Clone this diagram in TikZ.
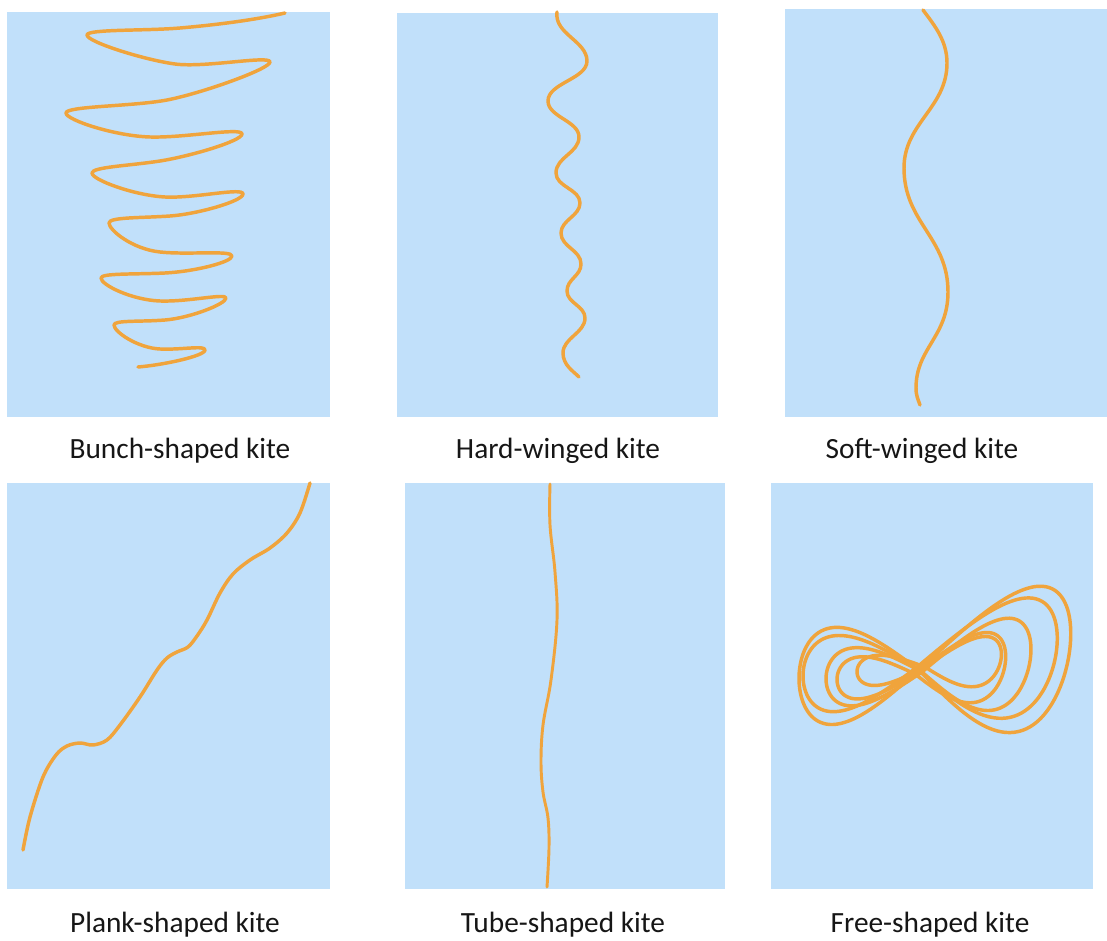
\documentclass[tikz,border=0pt]{standalone}
\usepackage{fontspec}
\setmainfont{Carlito}
\definecolor{panelblue}{RGB}{193,224,250}
\definecolor{kiteorange}{RGB}{240,164,60}
\definecolor{labeltext}{RGB}{22,22,22}
\begin{document}
\begin{tikzpicture}[x=0.75pt,y=-0.75pt,
  panel/.style={fill=panelblue,draw=none},
  kiteline/.style={draw=kiteorange,line width=2.6pt,line cap=round,line join=round},
  caption/.style={font=\fontsize{22}{26}\selectfont,text=labeltext,anchor=base,inner sep=0pt}]
\useasboundingbox (0,0) rectangle (1107,941);
\fill[white] (0,0) rectangle (1107,941);
% panels
\fill[panel] (7,12) rectangle (330,417);
\fill[panel] (397,13) rectangle (718,417);
\fill[panel] (785,9) rectangle (1107,417);
\fill[panel] (7,483) rectangle (330,889);
\fill[panel] (405,483) rectangle (725,889);
\fill[panel] (771,483) rectangle (1093,889);
% captions
\node[caption] (cap1) at (180,458) {Bunch-shaped kite};
\node[caption] (cap2) at (558,458) {Hard-winged kite};
\node[caption] (cap3) at (922,458) {Soft-winged kite};
\node[caption] (cap4) at (175,932) {Plank-shaped kite};
\node[caption] (cap5) at (563,932) {Tube-shaped kite};
\node[caption] (cap6) at (930,932) {Free-shaped kite};
% bunch-shaped
\draw[kiteline] (285,13) .. controls +(-30,7) and +(35,-3) .. (180,28)
 .. controls +(-35,3) and +(0,-6) .. (87,35)
 .. controls +(0,7) and +(-30,-4) .. (175,64)
 .. controls +(30,4) and +(0,-7) .. (270,62)
 .. controls +(0,7) and +(34,-6.5) .. (167,100)
 .. controls +(-34,6.5) and +(0,-7) .. (66,113)
 .. controls +(0,7) and +(-35,-1) .. (150,137)
 .. controls +(35,1) and +(0,-7) .. (242,134)
 .. controls +(0,7) and +(30,-4.7) .. (160,161)
 .. controls +(-30,4.7) and +(0,-6) .. (92,173)
 .. controls +(0,7) and +(-30,-1.5) .. (165,197)
 .. controls +(30,1.5) and +(0,-7) .. (243,194)
 .. controls +(0,7) and +(28,-2) .. (170,216)
 .. controls +(-28,2) and +(0,-6) .. (109,223)
 .. controls +(0,7) and +(-28,-3) .. (160,252)
 .. controls +(28,3) and +(0,-6) .. (232,256)
 .. controls +(0,6) and +(30,-1.5) .. (165,273)
 .. controls +(-30,1.5) and +(0,-5) .. (101,278)
 .. controls +(0,7) and +(-28,-1) .. (160,301)
 .. controls +(28,1) and +(0,-5) .. (226,298)
 .. controls +(0,6) and +(25,-2) .. (165,320)
 .. controls +(-25,2) and +(0,-5) .. (114,325)
 .. controls +(0,7) and +(-22,-1) .. (160,349)
 .. controls +(22,1) and +(0,-5) .. (205,350)
 .. controls +(0,6) and +(25,-2) .. (138,367);
% hard-winged
\draw[kiteline] (557,12) .. controls +(-3,22) and +(0,-20) .. (587,61)
 .. controls +(0,18) and +(0,-18) .. (548,101)
 .. controls +(0,16) and +(0,-16) .. (579,137)
 .. controls +(0,16) and +(0,-16) .. (556,173)
 .. controls +(0,14) and +(0,-14) .. (580,203)
 .. controls +(0,13) and +(0,-13) .. (561,233)
 .. controls +(0,14) and +(0,-14) .. (581,264)
 .. controls +(0,12) and +(0,-12) .. (567,291)
 .. controls +(0,12) and +(0,-12) .. (585,318)
 .. controls +(0,15) and +(0,-15) .. (563,353)
 .. controls +(0,12) and +(-6,-6) .. (579,377);
% soft-winged
\draw[kiteline] (923,10) .. controls +(12,16) and +(0,-22) .. (947,63)
 .. controls +(0,45) and +(0,-45) .. (904,168)
 .. controls +(0,55) and +(0,-55) .. (948,292)
 .. controls +(0,45) and +(0,-40) .. (916,388)
 .. controls +(0,8) and +(-2,-6) .. (920,405);
% plank-shaped
\draw[kiteline] plot[smooth,tension=0.55] coordinates {
(23,850) (30,817) (43,777) (56,755) (67,746) (80,743) (93,745) (107,740) (120,725) (140,697) (157,670) (167,658) (177,652) (188,647) (197,636) (207,620) (220,593) (233,574) (250,560) (270,548) (287,533) (300,513) (310,483)};
% tube-shaped
\draw[kiteline,line width=2.2pt] plot[smooth,tension=0.6] coordinates {
(550,484) (550,525) (555,572) (557,620) (551,680) (543,725) (541,762) (543,792) (548,818) (549,848) (547,887)};
% free-shaped
\foreach \cx/\cy/\R/\H/\L/\G in {919/670/150/146/120/97, 916/668/140/120/113/76, 922/672/108/92/96/58, 915/674/90/70/78/42, 925/667/76/50/68/30}{
  \draw[kiteline] plot[domain=0:180,samples=80,smooth,variable=\t]
    ({\cx+\R*sin(\t)+0.16*\H*sin(\t)*cos(\t)},{\cy-\H*sin(\t)*cos(\t)-0.1*\R*sin(\t)});
  \draw[kiteline] plot[domain=180:360,samples=80,smooth,variable=\t]
    ({\cx+\L*sin(\t)},{\cy-\G*sin(\t)*cos(\t)-0.07*\L*sin(\t)});
}
\end{tikzpicture}
\end{document}
